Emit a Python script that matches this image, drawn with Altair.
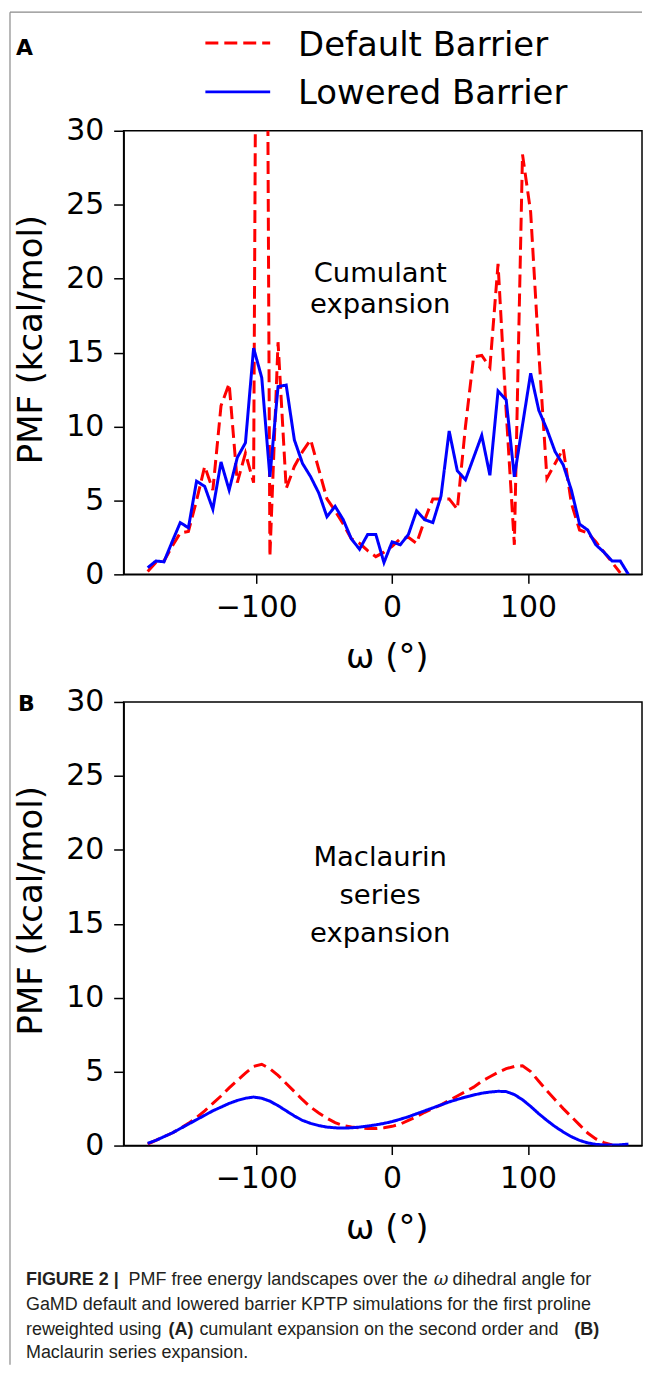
import altair as alt
import pandas as pd

# ---------------- data ----------------
omega = list(range(-180, 175, 6))  # 6-degree bins, -180 ... 174
series_names = ["Default Barrier", "Lowered Barrier"]

# Panel A: cumulant expansion
a_default = [0.2, 0.8, 0.9, 1.9, 2.8, 2.9, 5.0, 7.3, 5.7, 11.4,
             12.9, 6.2, 8.2, 6.2, 120.0, 1.2, 15.7, 5.8, 7.3, 8.3,
             9.1, 7.1, 5.1, 4.3, 3.4, 2.4, 2.1, 1.6, 1.2, 1.5,
             1.9, 2.4, 2.5, 2.1, 3.7, 5.1, 5.1, 5.1, 4.4, 10.0,
             14.7, 14.8, 14.0, 21.0, 11.0, 2.0, 28.4, 24.5, 15.0, 6.5,
             7.5, 8.5, 4.8, 3.0, 2.8, 2.2, 1.5, 0.8, 0.1, None]
a_lowered = [0.45, 0.9, 0.85, 2.2, 3.5, 3.15, 6.3, 5.95, 4.4, 7.6,
             5.7, 7.9, 8.9, 15.3, 13.3, 6.6, 12.7, 12.8, 9.1, 7.5,
             6.6, 5.5, 3.9, 4.6, 3.7, 2.4, 1.7, 2.7, 2.7, 0.8,
             2.2, 2.0, 2.7, 4.3, 3.7, 3.5, 5.3, 9.7, 7.0, 6.4,
             7.9, 9.4, 6.7, 12.4, 11.8, 6.6, 10.1, 13.6, 11.1, 9.8,
             8.3, 7.4, 5.7, 3.4, 3.0, 2.0, 1.5, 0.9, 0.9, 0.0]

# Panel B: Maclaurin series expansion
b_default = [0.1, 0.35, 0.6, 0.85, 1.15, 1.5, 1.9, 2.35, 2.85, 3.35,
             3.9, 4.4, 4.9, 5.35, 5.5, 5.2, 4.75, 4.2, 3.65, 3.1,
             2.6, 2.2, 1.85, 1.55, 1.35, 1.25, 1.2, 1.15, 1.15, 1.2,
             1.3, 1.45, 1.7, 1.95, 2.25, 2.5, 2.75, 3.05, 3.35, 3.65,
             3.95, 4.35, 4.65, 4.95, 5.2, 5.35, 5.4, 5.0, 4.35, 3.7,
             3.1, 2.5, 1.95, 1.4, 0.85, 0.45, 0.2, 0.05, None, None]
b_lowered = [0.15, 0.35, 0.6, 0.85, 1.15, 1.45, 1.75, 2.05, 2.35, 2.6,
             2.85, 3.05, 3.2, 3.28, 3.2, 3.0, 2.7, 2.35, 2.0, 1.7,
             1.5, 1.35, 1.25, 1.2, 1.18, 1.2, 1.25, 1.32, 1.4, 1.5,
             1.62, 1.78, 1.95, 2.15, 2.35, 2.55, 2.75, 2.95, 3.12, 3.28,
             3.42, 3.54, 3.62, 3.67, 3.65, 3.45, 3.1, 2.65, 2.15, 1.7,
             1.28, 0.92, 0.6, 0.35, 0.18, 0.08, 0.04, 0.03, 0.05, 0.1]

x_ticks = [-100, 0, 100]
y_ticks = [0, 5, 10, 15, 20, 25, 30]
colors = ["#ff0000", "#0000ff"]
dashes = [[13, 6], [1, 0]]

FONT = "DejaVu Sans"
CAP_FONT = "Liberation Sans"
W = 520  # plot width (kept inside the page so nothing overflows)


def long_df(default, lowered):
    rows = []
    for s, vals in zip(series_names, [default, lowered]):
        for x, v in zip(omega, vals):
            rows.append({"omega": x, "pmf": v, "series": s})
    return pd.DataFrame(rows)


def txt(text, x, y, size, weight="normal", font=FONT, align="left", color="black", style="normal"):
    return alt.Chart(pd.DataFrame({"t": [text]})).mark_text(
        align=align, baseline="alphabetic", fontSize=size, fontWeight=weight,
        font=font, color=color, fontStyle=style
    ).encode(text="t:N", x=alt.value(x), y=alt.value(y))


xscale = alt.Scale(domain=[-197.7, 184.0], nice=False, zero=False)
yscale = alt.Scale(domain=[0, 30], nice=False, zero=False)


def lines_layer(df):
    return alt.Chart(df).mark_line(strokeWidth=3, clip=True).encode(
        x=alt.X("omega:Q", scale=xscale,
                axis=alt.Axis(values=x_ticks, title="ω (°)", titleX=264, titleY=83,
                              titleBaseline="middle", labelPadding=9)),
        y=alt.Y("pmf:Q", scale=yscale,
                axis=alt.Axis(values=y_ticks, title="PMF (kcal/mol)",
                              titleX=-92, titleY=209, titleAngle=270,
                              titleAlign="center", titleBaseline="middle",
                              labelPadding=10, tickSize=10)),
        color=alt.Color("series:N", scale=alt.Scale(domain=series_names, range=colors),
                        legend=None),
        strokeDash=alt.StrokeDash("series:N", scale=alt.Scale(domain=series_names, range=dashes),
                                  legend=None),
    )


def legend_swatch(i, y):
    return alt.Chart(pd.DataFrame({"k": [0]})).mark_rule(
        color=colors[i], strokeWidth=3, strokeDash=dashes[i]
    ).encode(x=alt.value(82), x2=alt.value(147), y=alt.value(y))


dfA = long_df(a_default, a_lowered)
dfB = long_df(b_default, b_lowered)

noteA = alt.Chart(pd.DataFrame({"omega": [-8.8], "pmf": [19.76],
                                "t": ["Cumulant\nexpansion"]})).mark_text(
    align="center", baseline="alphabetic", fontSize=27.5, font=FONT,
    lineBreak="\n", lineHeight=31, color="black"
).encode(x=alt.X("omega:Q", scale=xscale), y=alt.Y("pmf:Q", scale=yscale), text="t:N")

noteB = alt.Chart(pd.DataFrame({"omega": [-8.8], "pmf": [18.9],
                                "t": ["Maclaurin\nseries\nexpansion"]})).mark_text(
    align="center", baseline="alphabetic", fontSize=27.5, font=FONT,
    lineBreak="\n", lineHeight=38, color="black"
).encode(x=alt.X("omega:Q", scale=xscale), y=alt.Y("pmf:Q", scale=yscale), text="t:N")

frame_left = alt.Chart(pd.DataFrame({"k": [0]})).mark_rule(color="#8a8a8a", strokeWidth=1.2).encode(
    x=alt.value(-114), y=alt.value(-119), y2=alt.value(1238))
frame_top = alt.Chart(pd.DataFrame({"k": [0]})).mark_rule(color="#8a8a8a", strokeWidth=1.2).encode(
    x=alt.value(-114), x2=alt.value(W), y=alt.value(-119))

panelA = alt.layer(
    frame_left, frame_top,
    lines_layer(dfA),
    noteA,
    legend_swatch(0, -88),
    legend_swatch(1, -39),
    txt(series_names[0], 175, -75, 34),
    txt(series_names[1], 175, -27, 34),
    txt("A", -108, -76, 22, weight="bold"),
).properties(width=W, height=445)

cap_color = "#231f20"
CS = 18
panelB = alt.layer(
    lines_layer(dfB),
    noteB,
    txt("B", -106, 9, 22, weight="bold"),
    txt("FIGURE 2 |", -98, 585, CS, weight="bold", font=CAP_FONT, color=cap_color),
    txt("PMF free energy landscapes over the", 5, 585, CS, font=CAP_FONT, color=cap_color),
    txt("ω", 311, 585, CS, font="DejaVu Serif", color=cap_color, style="italic"),
    txt("dihedral angle for", 330, 585, CS, font=CAP_FONT, color=cap_color),
    txt("GaMD default and lowered barrier KPTP simulations for the first proline", -98, 610, CS, font=CAP_FONT, color=cap_color),
    txt("reweighted using", -98, 635, CS, font=CAP_FONT, color=cap_color),
    txt("(A)", 45, 635, CS, weight="bold", font=CAP_FONT, color=cap_color),
    txt("cumulant expansion on the second order and", 76, 635, CS, font=CAP_FONT, color=cap_color),
    txt("(B)", 452, 635, CS, weight="bold", font=CAP_FONT, color=cap_color),
    txt("Maclaurin series expansion.", -98, 658.5, CS, font=CAP_FONT, color=cap_color),
).properties(width=W, height=445)

chart = alt.vconcat(panelA, panelB, spacing=128, bounds="flush").properties(
    padding=0
).configure_view(
    stroke="black", strokeWidth=1.5
).configure_axis(
    labelFont=FONT, titleFont=FONT, labelColor="black", titleColor="black",
    domainColor="black", tickColor="black", domainWidth=1.5, tickWidth=1.5,
    grid=False, titleFontWeight="normal", labelFontSize=30, titleFontSize=34,
    tickSize=9
)

chart.save("out.html", embed_options={"renderer": "svg", "actions": False})
